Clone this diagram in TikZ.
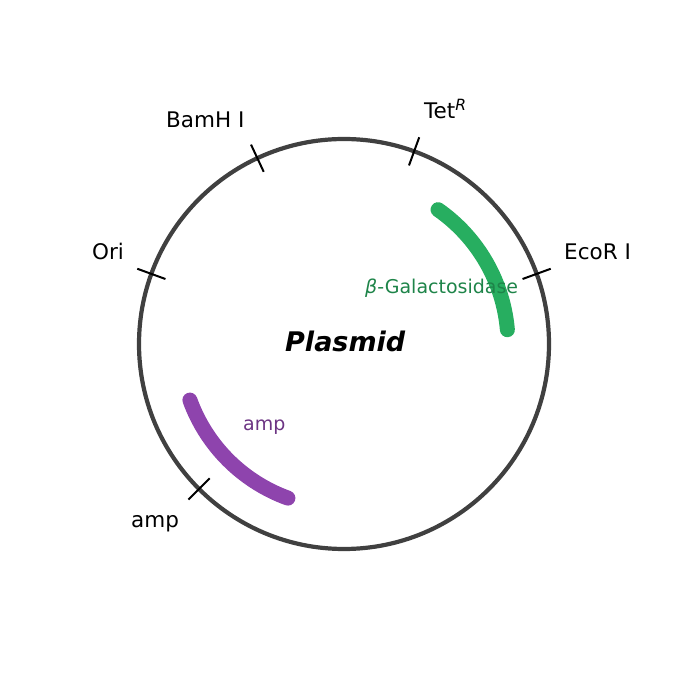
\documentclass[tikz,border=0pt]{standalone}
\usepackage{fontspec}
\setmainfont{DejaVu Sans}
\usetikzlibrary{calc}
\definecolor{ringgray}{HTML}{404040}
\definecolor{galgreen}{HTML}{27AE60}
\definecolor{galtext}{HTML}{1E8449}
\definecolor{amppurple}{HTML}{8E44AD}
\definecolor{amptext}{HTML}{6C3483}
\begin{document}
\begin{tikzpicture}[x=1pt,y=1pt,
  sitelabel/.style={anchor=base west,inner sep=0pt,font=\fontsize{21.5}{25}\selectfont},
  genelabel/.style={anchor=base west,inner sep=0pt,font=\fontsize{19}{23}\selectfont},
  sitetick/.style={draw=black,line width=2pt},
  genearc/.style={line width=15pt,line cap=round}]
\useasboundingbox (0,0) rectangle (687,688);
\coordinate (C) at (344,344);
\draw[ringgray,line width=4.2pt] (C) circle[radius=205];
% gene arcs
\draw[genearc,galgreen] ($(C)+(5:164)$) arc[start angle=5,end angle=55,radius=164];
\draw[genearc,amppurple] ($(C)+(200:164)$) arc[start angle=200,end angle=250,radius=164];
% restriction site ticks
\foreach \a/\n in {20/eco,70/tet,115/bam,160/ori,225/amp}{
  \coordinate (\n in) at ($(C)+(\a:190)$);
  \coordinate (\n out) at ($(C)+(\a:220)$);
  \draw[sitetick] (\n in) -- (\n out);
}
% labels
\node[sitelabel] (tetl) at (424,569) {Tet\raisebox{8pt}{\fontsize{15.5}{18}\selectfont\itshape R}};
\node[sitelabel] (baml) at (166,560) {BamH I};
\node[sitelabel] (oril) at (92,428) {Ori};
\node[sitelabel] (ecol) at (564,428) {EcoR I};
\node[sitelabel] (ampl) at (131,160) {amp};
\node[genelabel,text=galtext] (gall) at (365,394) {{\itshape β}-Galactosidase};
\node[genelabel,text=amptext] (ampg) at (243,257) {amp};
\node[anchor=base west,inner sep=0pt,font=\fontsize{27}{31}\selectfont\bfseries\itshape] (title) at (285,336) {Plasmid};
\end{tikzpicture}
\end{document}
